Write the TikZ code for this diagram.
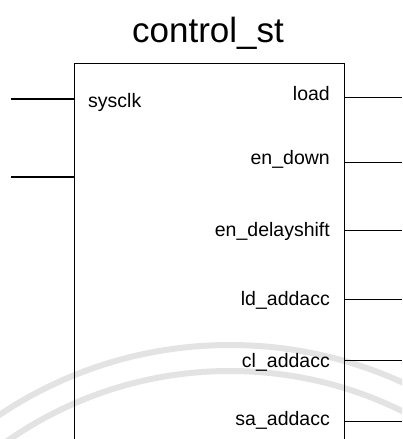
\documentclass[tikz,border=0pt]{standalone}
\usepackage{fontspec}
\setmainfont{Liberation Sans}
\usetikzlibrary{positioning}

\begin{document}
\begin{tikzpicture}[x=1pt,y=-1pt,
  every node/.style={font=\fontsize{19.5}{22}\selectfont, inner sep=0pt},
  pin/.style={line width=0.9pt}]
\useasboundingbox (0,0) rectangle (402,439);
\clip (0,0) rectangle (402,439);
% faint scan watermark
\draw[gray!22, line width=6pt] (230,760) circle (415pt);
\draw[gray!22, line width=6pt] (230,760) circle (389pt);
% block
\node[draw, line width=1.2pt, minimum width=270pt, minimum height=400pt,
  anchor=north west] (ctrl) at (74,63) {};
\node[font=\fontsize{35}{40}\selectfont, anchor=base] (title) at (208,42) {control\_st};
% inputs
\foreach \n/\y in {clk/99, rst/177}{
  \coordinate (\n) at (11,\y);
  \draw[pin, line width=1.1pt] (\n) -- (\n -| ctrl.west);
}
\node[anchor=base west] (sysclk) at (88,107) {sysclk};
% outputs
\foreach \n/\txt/\ty/\ly in {o1/load/100/97, o2/en\_down/164/162,
    o3/en\_delayshift/236/230, o4/ld\_addacc/305/299,
    o5/cl\_addacc/367/360, o6/sa\_addacc/425/421}{
  \node[anchor=base east] (\n) at (330,\ty) {\txt};
  \coordinate (\n end) at (402,\ly);
  \draw[pin] (\n end -| ctrl.east) -- (\n end);
}
\end{tikzpicture}
\end{document}
